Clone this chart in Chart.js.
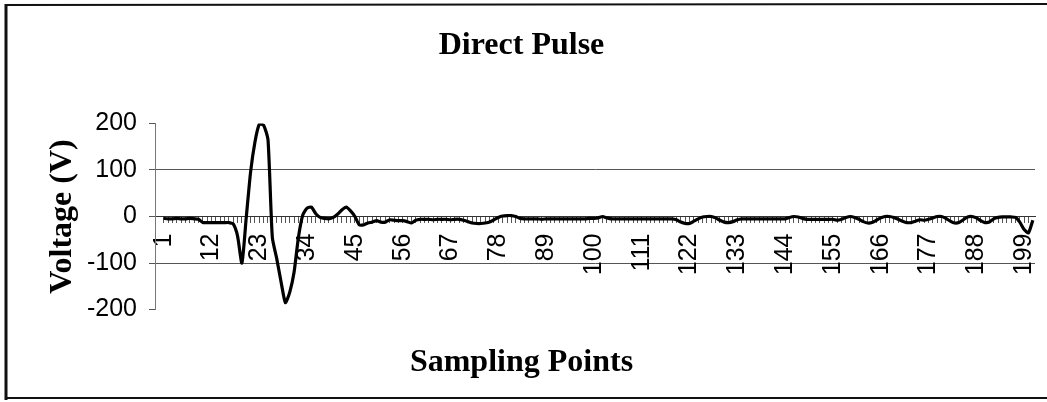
<!DOCTYPE html>
<html>
<head>
<meta charset="utf-8">
<title>Direct Pulse</title>
<script src="https://cdn.jsdelivr.net/npm/chart.js@4.4.1/dist/chart.umd.min.js"></script>
<style>
  html, body { margin: 0; padding: 0; background: #fff; }
  #pulseChart { display: block; }
</style>
</head>
<body>
<canvas id="pulseChart" width="1047" height="402"></canvas>
<script>
// sampling point numbers on the category axis
const samplePoints = Array.from({ length: 201 }, (_, i) => i + 1);

// voltage (V), one value per sampling point
const voltage = [
  -4, -5, -5, -4, -5, -5, -4, -5, -6, -13,
  -13, -13, -13, -13, -13, -13, -16, -42, -100, -2,
  96, 160, 198, 196, 165, -45, -90, -140, -185, -163,
  -120, -45, 3, 18, 20, 6, -2, -4, -5, -2,
  5, 14, 20, 12, 0, -18, -18, -14, -12, -9,
  -12, -12, -7, -8, -9, -9, -11, -14, -8, -6,
  -6, -6, -7, -6, -6, -6, -7, -6, -6, -8,
  -11, -14, -15, -15, -14, -12, -7, -2, 1, 2,
  2, 0, -4, -5, -5, -5, -5, -6, -5, -5,
  -5, -5, -5, -5, -5, -5, -5, -5, -4, -4,
  -3, 0, -3, -5, -5, -5, -5, -5, -5, -5,
  -5, -5, -5, -5, -5, -5, -5, -5, -7, -12,
  -15, -15, -10, -5, -1, 0, 0, -3, -8, -12,
  -13, -11, -7, -5, -5, -5, -5, -5, -5, -5,
  -5, -5, -5, -5, -2, 0, -1, -4, -6, -6,
  -6, -6, -6, -6, -6, -8, -6, -2, 0, -2,
  -6, -11, -14, -13, -8, -3, 0, 0, -2, -6,
  -10, -13, -13, -10, -7, -8, -6, -3, 0, 0,
  -4, -10, -14, -13, -7, -1, 0, -3, -9, -13,
  -12, -5, -2, -1, -1, -1, -2, -12, -28, -35,
  -8
];

// labelled sampling points (every 11th) and value axis ticks
const xTickLabels = [1, 12, 23, 34, 45, 56, 67, 78, 89, 100, 111, 122, 133, 144, 155, 166, 177, 188, 199];
const yTickValues = [-200, -100, 0, 100, 200];
const yGridValues = [-100, 100];

const serif = 'Liberation Serif';
const sans = 'Liberation Sans';

// scanned page frame round the chart
const framePlugin = {
  id: 'frame',
  afterDraw(chart) {
    const c = chart.ctx;
    c.save();
    c.strokeStyle = '#111';
    c.lineWidth = 3;
    c.beginPath();
    c.moveTo(6, 4);
    c.lineTo(6, 400);
    c.stroke();
    c.lineWidth = 2;
    c.beginPath();
    c.moveTo(5, 5);
    c.lineTo(1047, 4);
    c.moveTo(5, 398);
    c.lineTo(1047, 398);
    c.stroke();
    c.restore();
  },
};

const points = samplePoints.map((p, i) => ({ x: p, y: voltage[i] }));

new Chart(document.getElementById('pulseChart'), {
  type: 'line',
  data: {
    datasets: [
      {
        label: 'Direct Pulse',
        data: points,
        borderColor: '#000',
        backgroundColor: '#000',
        borderWidth: 3.2,
        pointRadius: 0,
        tension: 0.2,
        fill: false,
      },
    ],
  },
  options: {
    responsive: false,
    animation: false,
    devicePixelRatio: 1,
    layout: {
      padding: { left: 8, right: 12, top: 5, bottom: 8 },
    },
    plugins: {
      legend: { display: false },
      tooltip: { enabled: false },
      title: {
        display: true,
        text: 'Direct Pulse',
        color: '#000',
        font: { family: serif, size: 32, weight: 'bold' },
        padding: { top: 22, bottom: 58 },
      },
      subtitle: {
        display: true,
        position: 'bottom',
        text: 'Sampling Points',
        color: '#000',
        font: { family: serif, size: 32, weight: 'bold' },
        padding: { top: 34, bottom: 12 },
      },
    },
    scales: {
      x: {
        type: 'linear',
        min: -1,
        max: 201.5,
        position: { y: 0 },
        afterFit: (scale) => {
          scale.paddingLeft = 0;
          scale.paddingRight = 0;
        },
        ticks: {
          stepSize: 1,
          autoSkip: false,
          minRotation: 90,
          maxRotation: 90,
          padding: 11,
          color: '#000',
          font: { family: sans, size: 25 },
          callback: (v) => (xTickLabels.includes(v) ? String(v) : ''),
        },
        grid: {
          drawOnChartArea: false,
          tickLength: 6,
          tickColor: (c) => (c.tick && c.tick.value >= 1 && c.tick.value <= 201 ? '#555' : 'rgba(0,0,0,0)'),
        },
        border: { color: '#333', width: 1 },
      },
      y: {
        min: -200,
        max: 200,
        afterBuildTicks: (scale) => {
          scale.ticks = yTickValues.map((v) => ({ value: v }));
        },
        afterFit: (scale) => {
          scale.width = 147;
        },
        ticks: {
          padding: 12,
          color: '#000',
          font: { family: sans, size: 25 },
        },
        grid: {
          color: (c) => (c.tick && yGridValues.includes(c.tick.value) ? '#555' : 'rgba(0,0,0,0)'),
          tickColor: '#555',
          tickLength: 6,
          lineWidth: 1,
        },
        border: { color: '#777', width: 1 },
        title: {
          display: true,
          text: 'Voltage (V)',
          color: '#000',
          font: { family: serif, size: 32, weight: 'bold' },
          padding: { top: 36, bottom: 0 },
        },
      },
    },
  },
  plugins: [framePlugin],
});
</script>
</body>
</html>
